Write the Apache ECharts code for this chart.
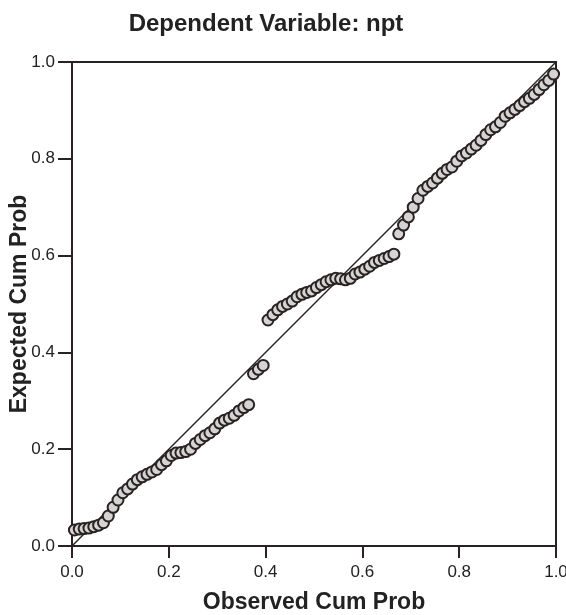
<!DOCTYPE html>
<html><head><meta charset="utf-8">
<script src="https://cdn.jsdelivr.net/npm/echarts@6/dist/echarts.min.js"></script>
<style>html,body{margin:0;padding:0;background:#fff}#c{width:566px;height:615px}</style>
</head><body><div id="c"></div>
<script>
const titleText = "Dependent Variable: npt";
const xAxisName = "Observed Cum Prob";
const yAxisName = "Expected Cum Prob";
const tickValues = [0, 0.2, 0.4, 0.6, 0.8, 1.0];
const observed = [0.005,0.015,0.025,0.035,0.045,0.055,0.065,0.075,0.085,0.095,
0.105,0.115,0.125,0.135,0.145,0.155,0.165,0.175,0.185,0.195,
0.205,0.215,0.225,0.235,0.245,0.255,0.265,0.275,0.285,0.295,
0.305,0.315,0.325,0.335,0.345,0.355,0.365,0.375,0.385,0.395,
0.405,0.415,0.425,0.435,0.445,0.455,0.465,0.475,0.485,0.495,
0.505,0.515,0.525,0.535,0.545,0.555,0.565,0.575,0.585,0.595,
0.605,0.615,0.625,0.635,0.645,0.655,0.665,0.675,0.685,0.695,
0.705,0.715,0.725,0.735,0.745,0.755,0.765,0.775,0.785,0.795,
0.805,0.815,0.825,0.835,0.845,0.855,0.865,0.875,0.885,0.895,
0.905,0.915,0.925,0.935,0.945,0.955,0.965,0.975,0.985,0.995];
const expected = [0.033,0.035,0.036,0.037,0.040,0.043,0.048,0.062,0.080,0.095,
0.110,0.118,0.128,0.137,0.143,0.148,0.153,0.158,0.168,0.176,
0.187,0.192,0.193,0.195,0.200,0.212,0.220,0.228,0.234,0.242,
0.254,0.260,0.264,0.270,0.279,0.286,0.292,0.356,0.365,0.373,
0.467,0.478,0.488,0.495,0.500,0.506,0.515,0.520,0.524,0.527,
0.534,0.540,0.546,0.550,0.553,0.552,0.550,0.553,0.562,0.566,
0.572,0.578,0.586,0.590,0.594,0.598,0.603,0.645,0.663,0.680,
0.700,0.718,0.735,0.743,0.750,0.760,0.770,0.778,0.783,0.795,
0.806,0.812,0.820,0.828,0.838,0.850,0.860,0.866,0.875,0.888,
0.895,0.902,0.910,0.918,0.925,0.933,0.943,0.953,0.962,0.975];
const refLine = [[0,0],[1,1]];

const pts = observed.map((x,i)=>[x, expected[i]]);
const chart = echarts.init(document.getElementById('c'));
const ink = '#2a2222';
const font = 'Liberation Sans, Arial, sans-serif';
const axisCommon = {
  type:'value', min:tickValues[0], max:tickValues[tickValues.length-1], interval:0.2,
  axisLine:{show:true, lineStyle:{color:ink, width:2}},
  splitLine:{show:false},
  nameLocation:'middle',
  nameMoveOverlap:false,
  nameTextStyle:{color:'#222', fontSize:23, fontWeight:'bold', fontFamily:font}
};
const lbl = {color:'#222', fontSize:17, fontFamily:font, formatter:v=>v.toFixed(1)};
chart.setOption({
  backgroundColor:'#fff',
  animation:false,
  title:{text:titleText, left:261, top:7, textAlign:'center',
    textStyle:{color:'#222', fontSize:24, fontWeight:'bold', fontFamily:font}},
  grid:{left:72, right:10, top:62, bottom:69, containLabel:false, outerBoundsMode:'none',
    show:true, borderColor:ink, borderWidth:2, backgroundColor:'transparent'},
  xAxis:Object.assign({}, axisCommon, {name:xAxisName, nameGap:45,
    axisTick:{show:true, length:12, lineStyle:{color:ink, width:2}},
    axisLabel:Object.assign({}, lbl, {margin:18})}),
  yAxis:Object.assign({}, axisCommon, {name:yAxisName, nameGap:41,
    axisTick:{show:true, length:14, lineStyle:{color:ink, width:2}},
    axisLabel:Object.assign({}, lbl, {margin:17})}),
  series:[
    {type:'line', data:refLine, symbol:'none', lineStyle:{color:ink, width:1.5}, z:1},
    {type:'scatter', data:pts, symbol:'circle', symbolSize:11,
      itemStyle:{color:'#d4d4d4', borderColor:ink, borderWidth:2, opacity:1}, z:2}
  ]
});
</script></body></html>
